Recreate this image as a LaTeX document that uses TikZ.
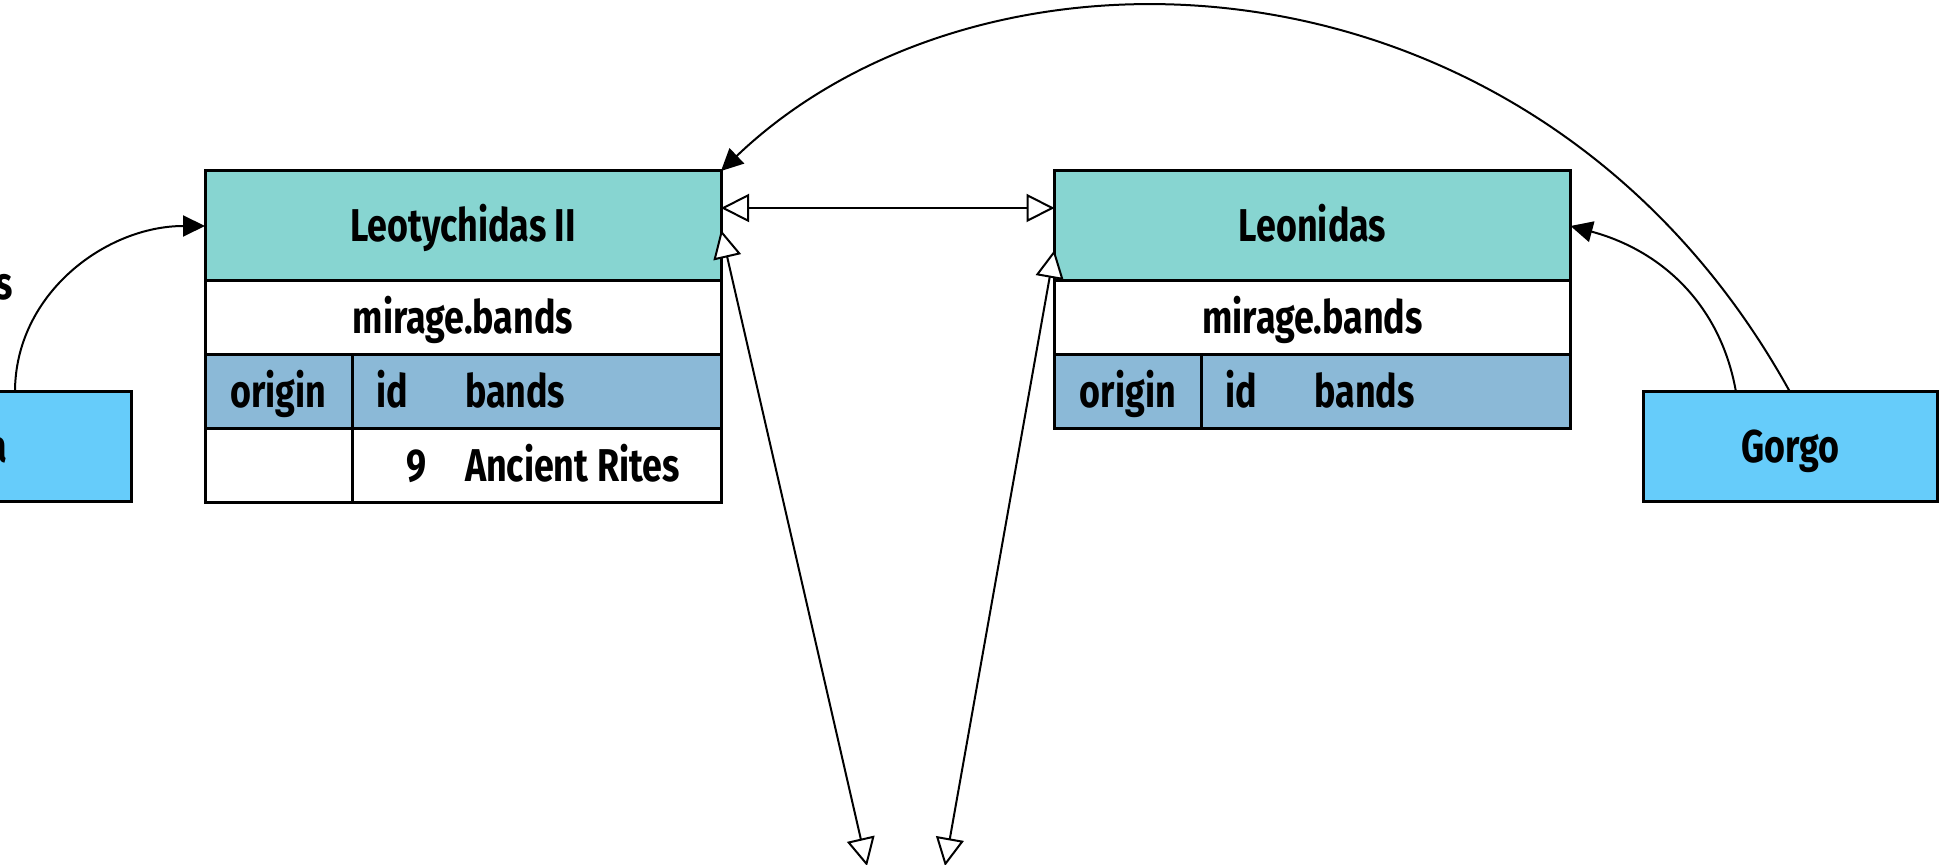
\documentclass[tikz,border=0pt]{standalone}
\usepackage{fontspec}
\setmainfont{Fira Sans}[FakeStretch=0.78]
\usepackage{tikz}
\usetikzlibrary{arrows.meta,positioning}
\definecolor{spTeal}{RGB}{135,213,209}
\definecolor{spSteel}{RGB}{139,185,215}
\definecolor{spSky}{RGB}{102,204,250}

\begin{document}
\begin{tikzpicture}[
  x=0.5pt, y=0.5pt,
  font=\bfseries\fontsize{23}{26}\selectfont,
  every node/.append style={text height=16pt, text depth=0pt, outer sep=0pt},
  title/.style={draw, line width=1.5pt, fill=spTeal, minimum width=258pt, minimum height=55pt, inner sep=0pt},
  sub/.style={draw, line width=1.5pt, fill=white, minimum width=258pt, minimum height=37pt, inner sep=0pt},
  colhead/.style={draw, line width=1.5pt, fill=spSteel, minimum height=37pt, inner sep=0pt},
  cell/.style={draw, line width=1.5pt, fill=white, minimum height=37pt, inner sep=0pt},
  actor/.style={draw, line width=1.5pt, fill=spSky, minimum width=147pt, minimum height=55pt, inner sep=0pt},
  lbl/.style={inner sep=0pt},
  link/.style={-{Triangle[length=11pt,width=10.5pt]}, line width=1pt},
  rel/.style={{Triangle[length=14pt,width=14pt,fill=white]}-{Triangle[length=14pt,width=14pt,fill=white]}, line width=1pt}
]
\useasboundingbox (0,0) rectangle (1939,-865);

% table Leotychidas II
\node[title] (leoTitle) at (463,-226) {Leotychidas II};
\node[sub, below=0pt of leoTitle] (leoSub) {mirage.bands};
\node[colhead, minimum width=73.5pt, below=0pt of leoSub.south west, anchor=north west] (leoOrigin) {origin};
\node[colhead, minimum width=184.5pt, right=0pt of leoOrigin] (leoCols) {};
\node[cell, minimum width=73.5pt, below=0pt of leoOrigin] (leoRowA) {};
\node[cell, minimum width=184.5pt, right=0pt of leoRowA] (leoRowB) {};
\node[lbl, anchor=west] (leoId) at ([xshift=12pt]leoCols.west) {id};
\node[lbl, anchor=west] (leoBands) at ([xshift=56.5pt]leoCols.west) {bands};
\node[lbl, anchor=east] (leoNum) at ([xshift=37.5pt]leoRowB.west) {9};
\node[lbl, anchor=west] (leoName) at ([xshift=56.5pt]leoRowB.west) {Ancient Rites};

% table Leonidas
\node[title] (leoniTitle) at (1312.5,-226) {Leonidas};
\node[sub, below=0pt of leoniTitle] (leoniSub) {mirage.bands};
\node[colhead, minimum width=73.5pt, below=0pt of leoniSub.south west, anchor=north west] (leoniOrigin) {origin};
\node[colhead, minimum width=184.5pt, right=0pt of leoniOrigin] (leoniCols) {};
\node[lbl, anchor=west] (leoniId) at ([xshift=12pt]leoniCols.west) {id};
\node[lbl, anchor=west] (leoniBands) at ([xshift=56.5pt]leoniCols.west) {bands};

% actors
\node[actor] (gorgo) at (1790,-447) {Gorgo};
\node[actor] (leftActor) at (-16,-447) {};
\node[lbl, anchor=east] (leftName) at (7,-447) {a};
\node[lbl, anchor=east] (leftLink) at (13,-284) {s};

\coordinate (lowA) at (867,-866);
\coordinate (lowB) at (945,-866);

% links
\draw[link] ([xshift=15.5pt]leftActor.north) to[out=90, in=180] (leoTitle.west);
\draw[link] ([xshift=-27pt]gorgo.north) to[out=100, in=-15] (leoniTitle.east);
\draw[link] (gorgo.north) .. controls (1540,61) and (990,86) .. (leoTitle.north east);
\draw[rel] ([yshift=9pt]leoTitle.east) -- ([yshift=9pt]leoniTitle.west);
\draw[rel] ([yshift=-2pt]leoTitle.east) -- (lowA);
\draw[rel] ([yshift=-12pt]leoniTitle.west) -- (lowB);
\end{tikzpicture}
\end{document}
